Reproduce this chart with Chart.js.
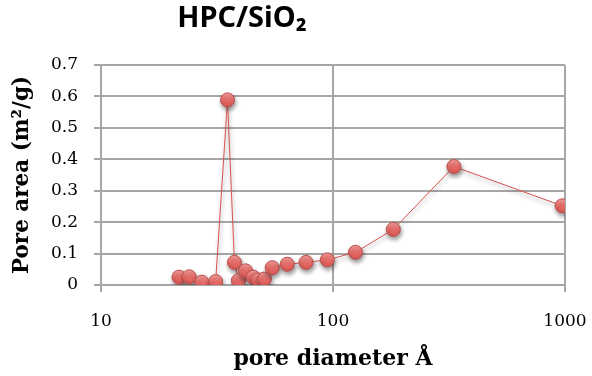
<!DOCTYPE html>
<html lang="en">
<head>
  <meta charset="UTF-8">
  <title>HPC/SiO2 pore area</title>
  <script src="https://cdn.jsdelivr.net/npm/chart.js"></script>
  <style>
    body { margin: 0; background: #fff; }
    #wrap { position: relative; width: 592px; height: 376px; }
  </style>
</head>
<body>
  <div id="wrap"><canvas id="chart" width="592" height="376"></canvas></div>
  <script>
    // values
    const poreDiameter = [21.7, 24.0, 27.2, 31.2, 35.1, 37.6, 39.1, 42.0, 45.3, 47.6, 50.6, 54.7, 63.5, 76.5, 94.5, 125, 182, 332, 972];
    const poreArea = [0.025, 0.026, 0.009, 0.011, 0.589, 0.072, 0.014, 0.045, 0.025, 0.016, 0.019, 0.055, 0.066, 0.072, 0.080, 0.104, 0.177, 0.377, 0.252];
    const xTicks = [10, 100, 1000];
    const yTicks = [0, 0.1, 0.2, 0.3, 0.4, 0.5, 0.6, 0.7];

    const gridGray = '#a6a6a6';
    const serif = '"DejaVu Serif", serif';

    // chart title drawn over the top margin (Excel puts it left of centre)
    const titlePlugin = {
      id: 'sheetTitle',
      afterDraw(chart) {
        const ctx = chart.ctx;
        ctx.save();
        ctx.fillStyle = '#000';
        ctx.font = 'bold 29px "Noto Sans", sans-serif';
        ctx.textAlign = 'center';
        ctx.textBaseline = 'alphabetic';
        ctx.fillText('HPC/SiO₂', 242, 27);
        ctx.restore();
      }
    };

    // soft drop shadow under the markers
    const shadowPlugin = {
      id: 'markerShadow',
      beforeDatasetDraw(chart) {
        const ctx = chart.ctx;
        ctx.save();
        ctx.shadowColor = 'rgba(0,0,0,0.4)';
        ctx.shadowBlur = 4;
        ctx.shadowOffsetX = 1;
        ctx.shadowOffsetY = 3;
      },
      afterDatasetDraw(chart) {
        chart.ctx.restore();
      }
    };

    function markerFill(context) {
      const chart = context.chart;
      const y = chart.scales && chart.scales.y;
      if (!context.raw || !y || y.top === undefined) return '#e56f6c';
      const cy = y.getPixelForValue(context.raw.y);
      const g = chart.ctx.createLinearGradient(0, cy - 7, 0, cy + 7);
      g.addColorStop(0, '#f7a09c');
      g.addColorStop(0.5, '#ea6e6a');
      g.addColorStop(1, '#d65551');
      return g;
    }

    new Chart(document.getElementById('chart'), {
      type: 'scatter',
      data: {
        datasets: [{
          data: poreDiameter.map((d, i) => ({ x: d, y: poreArea[i] })),
          showLine: true,
          borderColor: '#d9534f',
          borderWidth: 1,
          pointRadius: 7,
          pointHoverRadius: 7,
          pointBackgroundColor: markerFill,
          pointBorderColor: '#b9504c',
          pointBorderWidth: 1
        }]
      },
      options: {
        responsive: false,
        animation: false,
        layout: { padding: { top: 65, right: 27, left: 0, bottom: 0 } },
        plugins: { legend: { display: false }, tooltip: { enabled: false } },
        scales: {
          x: {
            type: 'logarithmic',
            min: 10,
            max: 1000,
            afterBuildTicks: s => { s.ticks = xTicks.map(v => ({ value: v })); },
            afterFit: s => { s.height = 91; s.paddingLeft = 0; s.paddingRight = 0; },
            grid: { color: gridGray, lineWidth: 2, tickLength: 7, drawTicks: true },
            border: { color: gridGray, width: 2 },
            ticks: {
              color: '#000',
              font: { family: serif, size: 17 },
              padding: 19,
              maxRotation: 0,
              autoSkip: false,
              callback: v => String(v)
            },
            title: {
              display: true,
              text: 'pore diameter Å',
              color: '#000',
              font: { family: serif, size: 22, weight: 'bold' },
              padding: { top: 0, bottom: 4 }
            }
          },
          y: {
            min: 0,
            max: 0.7,
            afterBuildTicks: s => { s.ticks = yTicks.map(v => ({ value: v })); },
            afterFit: s => { s.width = 101; s.paddingTop = 0; s.paddingBottom = 0; },
            grid: { color: gridGray, lineWidth: 2, tickLength: 7, drawTicks: true },
            border: { color: gridGray, width: 2 },
            ticks: {
              color: '#000',
              font: { family: serif, size: 17 },
              padding: 16,
              callback: v => String(Math.round(v * 10) / 10)
            },
            title: {
              display: true,
              text: 'Pore area (m²/g)',
              color: '#000',
              font: { family: serif, size: 21.5, weight: 'bold' },
              padding: { top: 10, bottom: 0 }
            }
          }
        }
      },
      plugins: [titlePlugin, shadowPlugin]
    });
  </script>
</body>
</html>
